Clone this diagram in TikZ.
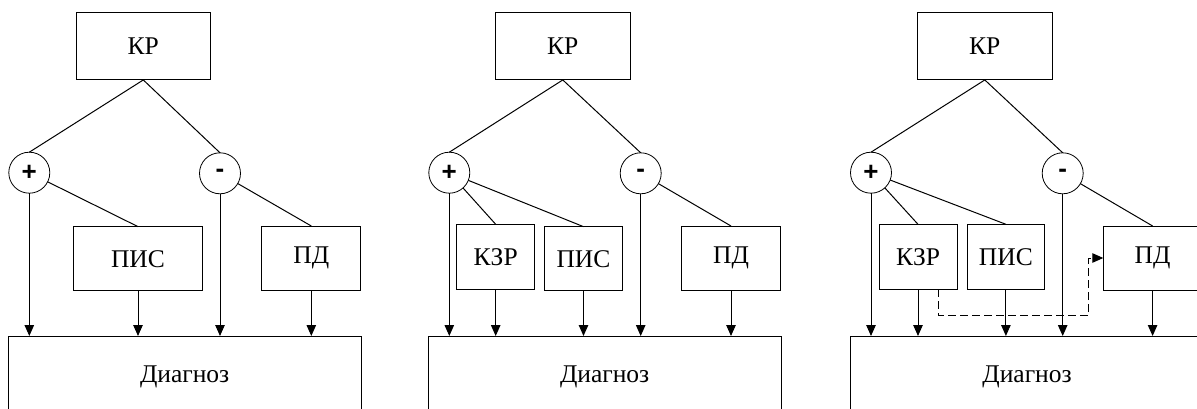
\documentclass[tikz,border=0pt]{standalone}
\usepackage{fontspec}
\setmainfont{Liberation Serif}
\newfontfamily\signfont{Liberation Sans}
\usetikzlibrary{arrows.meta,calc}
\tikzset{
  box/.style={draw, line width=1pt, inner sep=0pt, outer sep=0pt,
    font=\rmfamily\fontsize{25.5}{30}\selectfont},
  caption/.style={inner sep=0pt, font=\rmfamily\fontsize{25.5}{30}\selectfont},
  sign/.style={draw, circle, line width=0.8pt, minimum size=41pt, inner sep=0pt,
    outer sep=0pt, font=\signfont\bfseries\fontsize{26}{28}\selectfont},
  link/.style={line width=1pt},
  feed/.style={line width=1pt, -{Triangle[length=11pt,width=9.5pt]}},
  feeddash/.style={feed, dash pattern=on 8pt off 4pt},
  krbox/.style={box, minimum width=134.5pt, minimum height=67.3pt},
  basebox/.style={box, anchor=north west, minimum width=352.7pt, minimum height=100pt},
}
\begin{document}
\begin{tikzpicture}[x=1pt,y=-1pt]
\useasboundingbox (0,0) rectangle (1197,409);
\clip (0,0) rectangle (1197,409);

% ---------- first scheme ----------
\node[krbox] (kr1) at (143.3,46.3) {КР};
\node[sign] (p1) at (29.3,172.7) {+};
\node[sign] (m1) at (220,173.3) {-};
\node[box, minimum width=129.4pt, minimum height=64.3pt] (pis1) at (138,258.8) {ПИС};
\node[box, minimum width=99.3pt, minimum height=64pt] (pd1) at (311.3,258) {ПД};
\node[basebox] (dg1) at (8.3,336) {};
\node[caption] (dt1) at ([yshift=-40.7pt]dg1.north) {Диагноз};

\draw[link] (kr1.south) -- (p1.north);
\draw[link] (kr1.south) -- (m1.north);
\draw[link] (p1) -- (pis1.north);
\draw[link] (m1) -- (pd1.north);
\draw[feed] (p1) -- (p1 |- dg1.north);
\draw[feed] (pis1) -- (pis1 |- dg1.north);
\draw[feed] (m1) -- (m1 |- dg1.north);
\draw[feed] (pd1) -- (pd1 |- dg1.north);

% ---------- second scheme ----------
\node[krbox] (kr2) at (562.8,46.3) {КР};
\node[sign] (p2) at (449.3,172.7) {+};
\node[sign] (m2) at (640.7,173.3) {-};
\node[box, minimum width=78pt, minimum height=65pt] (kzr2) at (495.7,256.8) {КЗР};
\node[box, minimum width=78.4pt, minimum height=64.3pt] (pis2) at (583.5,258.8) {ПИС};
\node[box, minimum width=98.6pt, minimum height=64pt] (pd2) at (731,258) {ПД};
\node[basebox] (dg2) at (428.3,336) {};
\node[caption] (dt2) at ([yshift=-40.7pt]dg2.north) {Диагноз};

\draw[link] (kr2.south) -- (p2.north);
\draw[link] (kr2.south) -- (m2.north);
\draw[link] (p2) -- (kzr2.north);
\draw[link] (p2) -- (pis2.north);
\draw[link] (m2) -- (pd2.north);
\draw[feed] (p2) -- (p2 |- dg2.north);
\draw[feed] (kzr2) -- (kzr2 |- dg2.north);
\draw[feed] (pis2) -- (pis2 |- dg2.north);
\draw[feed] (m2) -- (m2 |- dg2.north);
\draw[feed] (pd2) -- (pd2 |- dg2.north);

% ---------- third scheme ----------
\node[krbox] (kr3) at (984.8,46.3) {КР};
\node[sign] (p3) at (871,172.7) {+};
\node[sign] (m3) at (1062.7,173.3) {-};
\node[box, minimum width=78pt, minimum height=65pt] (kzr3) at (918,256.8) {КЗР};
\node[box, minimum width=77.7pt, minimum height=65pt] (pis3) at (1005.9,256.8) {ПИС};
\node[box, minimum width=98.6pt, minimum height=64pt] (pd3) at (1152.6,258) {ПД};
\node[basebox] (dg3) at (850.7,336) {};
\node[caption] (dt3) at ([yshift=-40.7pt]dg3.north) {Диагноз};

\draw[link] (kr3.south) -- (p3.north);
\draw[link] (kr3.south) -- (m3.north);
\draw[link] (p3) -- (kzr3.north);
\draw[link] (p3) -- (pis3.north);
\draw[link] (m3) -- (pd3.north);
\draw[feed] (p3) -- (p3 |- dg3.north);
\draw[feed] (kzr3) -- (kzr3 |- dg3.north);
\draw[feed] (pis3) -- (pis3 |- dg3.north);
\draw[feed] (m3) -- (m3 |- dg3.north);
\draw[feed] (pd3) -- (pd3 |- dg3.north);

% feedback from КЗР to ПД
\coordinate (kzrout) at ($(kzr3.south)!0.52!(kzr3.south east)$);
\coordinate (turn) at (1088.7,315.5);
\draw[feeddash] (kzrout) |- (turn) |- (pd3.west);
\end{tikzpicture}
\end{document}
